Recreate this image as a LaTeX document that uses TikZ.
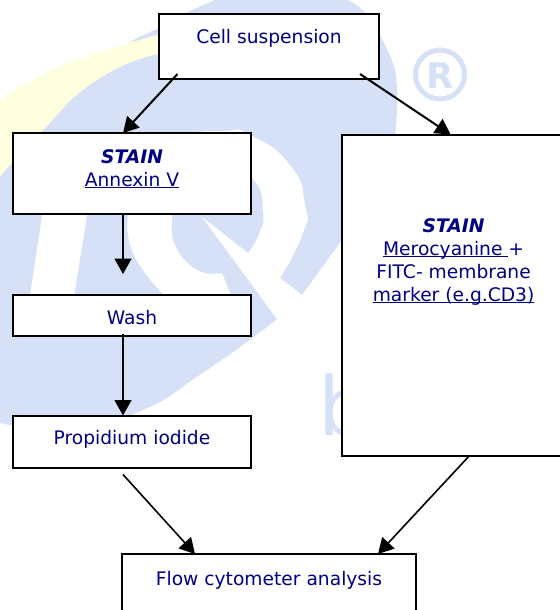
\documentclass[tikz,border=0pt]{standalone}
\usepackage{fontspec}
\setmainfont{DejaVu Sans}
\usetikzlibrary{arrows.meta,calc}
\definecolor{logoblue}{HTML}{D6E0F6}
\definecolor{logoyellow}{HTML}{FDFFDE}
\definecolor{txtblue}{HTML}{000080}
\newcommand{\ulined}[1]{\setbox0\hbox{#1}\rlap{\rule[-1.7pt]{\wd0}{0.75pt}}\box0}
\newcommand{\stain}{\textbf{\textit{STAIN}}}
\tikzset{
  flowbox/.style={draw=black,fill=white,line width=1.5pt,rectangle,outer sep=0pt,inner sep=0pt,
    text=txtblue,align=center,font=\fontsize{14}{17.25}\selectfont},
  flowarrow/.style={draw=black,line width=1.5pt,-{Triangle[length=11.5pt,width=12.5pt]}},
  flowarrowthin/.style={draw=black,line width=1.2pt,-{Triangle[length=11.5pt,width=12.5pt]}},
  logotext/.style={text=logoblue,inner sep=0pt,outer sep=0pt,anchor=base west}
}
\begin{document}
\begin{tikzpicture}[x=0.75pt,y=-0.75pt]
\useasboundingbox (0,0) rectangle (560,610);
\clip (0,0) rectangle (560,610);
% background logo
\fill[logoblue] (0,140) -- (0,423)
  -- plot[smooth,tension=1] coordinates {(0,423) (70,428) (136,413) (207,370) (277,319)}
  -- (302,295) -- (342,240)
  -- plot[smooth,tension=1] coordinates {(342,240) (378,180) (397,105) (380,35) (347,0)}
  -- (215,0) -- (185,13) -- (159,28) -- (139,37) -- (100,60) -- cycle;
\fill[logoyellow] (0,100)
  -- plot[smooth,tension=1] coordinates {(0,100) (48,72) (100,52) (165,33)}
  -- (165,53)
  -- plot[smooth,tension=1] coordinates {(165,53) (100,78) (40,133) (0,177)}
  -- cycle;
\fill[white] (128,215)
  -- plot[smooth,tension=1] coordinates {(128,215) (145,165) (180,138) (225,131) (250,135) (290,165) (305,205) (303,233) (280,278)}
  -- (302,295) -- (277,319) -- (202,217) -- (248,253)
  -- plot[smooth,tension=.8] coordinates {(248,253) (259,234) (263,212) (252,178) (205,152) (172,190)}
  -- plot[smooth,tension=.8] coordinates {(172,190) (172,215) (175,245) (197,270) (222,273)}
  -- (230,293) -- (232,310) -- (165,310) -- (162,293)
  -- plot[smooth,tension=.9] coordinates {(162,293) (133,253) (128,215)}
  -- cycle;
\fill[white] (44.5,200) -- (89.5,200) -- (71,315) -- (27,315) -- cycle;
\node[circle,draw=logoblue,line width=3.75pt,minimum size=36.75pt,inner sep=0pt] (regring) at (440,74.5) {};
\node[text=logoblue,inner sep=0pt,font=\fontsize{26.5}{26.5}\selectfont\bfseries] (regr) at (440.5,75.5) {R};
\node[logotext,font=\fontsize{61}{61}\selectfont] (bmark) at (318.5,435) {b};
% boxes
\node[flowbox,minimum width=165pt,minimum height=48.75pt,text height=7.5pt,text depth=12pt] (cell) at (269,46.5) {Cell suspension};
\node[flowbox,minimum width=178.5pt,minimum height=60.75pt,text height=18.75pt,text depth=0pt] (annexin) at (132,173.5) {\stain\\\ulined{Annexin V}};
\node[flowbox,minimum width=168pt,minimum height=240.75pt,text height=9pt,text depth=0pt] (mero) at (453.6,295) {\stain\\\ulined{Merocyanine\ }+\\FITC- membrane\\\ulined{marker (e.g.CD3)}};
\node[flowbox,minimum width=178.5pt,minimum height=30.75pt,text height=12.75pt,text depth=0pt] (wash) at (132,315.5) {Wash};
\node[flowbox,minimum width=178.5pt,minimum height=39pt,text height=7.5pt,text depth=3.75pt] (pi) at (132,441.5) {Propidium iodide};
\node[flowbox,minimum width=220.5pt,minimum height=53.25pt,text height=7.5pt,text depth=14.25pt] (flow) at (269,589.5) {Flow cytometer analysis};
% connectors
\draw[flowarrow] ($(cell.south west)+(18.5,-5)$) -- ($(annexin.north west)+(110,0)$);
\draw[flowarrow] ($(cell.south west)+(201,-5)$) -- ($(mero.north west)+(109,0)$);
\draw[flowarrow] ($(annexin.south west)+(110,0)$) -- ($(annexin.south west)+(110,60)$);
\draw[flowarrow] ($(wash.south west)+(110,-2)$) -- ($(pi.north west)+(110,0)$);
\draw[flowarrowthin] ($(pi.south west)+(110,7)$) -- ($(flow.north west)+(73,0)$);
\draw[flowarrowthin] ($(mero.south west)+(128,0)$) -- ($(flow.north west)+(256,0)$);
\end{tikzpicture}
\end{document}
